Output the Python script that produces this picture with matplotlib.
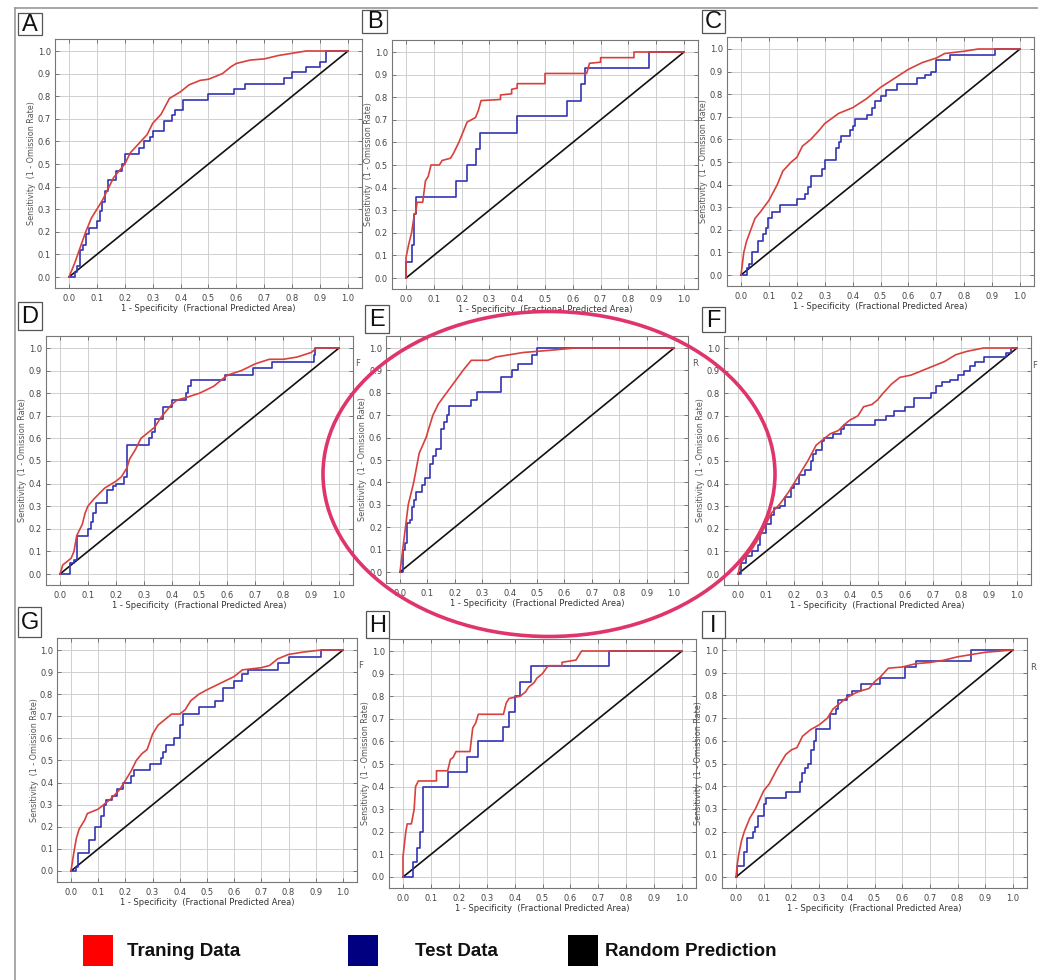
import matplotlib
matplotlib.use('Agg')
import matplotlib.pyplot as plt
import numpy as np
from matplotlib.patches import Ellipse, Rectangle

W, H = 1038, 980

# ---- data: (x, y) vertices ----
train_A = [(0,0),(0.02,0.06),(0.04,0.13),(0.06,0.2),(0.08,0.26),(0.1,0.3),(0.12,0.34),(0.14,0.39),(0.16,0.44),
           (0.18,0.47),(0.2,0.5),(0.22,0.55),(0.25,0.59),(0.28,0.63),(0.3,0.68),(0.33,0.72),(0.36,0.79),(0.4,0.82),
           (0.43,0.85),(0.47,0.87),(0.5,0.875),(0.55,0.9),(0.58,0.93),(0.6,0.945),(0.65,0.96),(0.7,0.965),
           (0.75,0.98),(0.8,0.99),(0.85,1.0),(1,1)]
test_A = [(0,0),(0.02,0.02),(0.03,0.05),(0.04,0.12),(0.05,0.14),(0.06,0.19),(0.07,0.215),(0.1,0.25),(0.11,0.29),
          (0.12,0.33),(0.13,0.38),(0.14,0.43),(0.17,0.47),(0.19,0.5),(0.2,0.545),(0.25,0.57),(0.27,0.6),(0.29,0.62),
          (0.3,0.645),(0.34,0.69),(0.37,0.715),(0.38,0.74),(0.41,0.785),(0.5,0.81),(0.59,0.83),(0.63,0.855),
          (0.77,0.88),(0.8,0.905),(0.85,0.93),(0.9,0.95),(0.92,1.0),(1,1)]

train_B = [(0,0),(0,0.09),(0.01,0.15),(0.02,0.2),(0.03,0.28),(0.035,0.29),(0.04,0.335),(0.06,0.335),(0.07,0.43),
           (0.08,0.45),(0.09,0.5),(0.12,0.5),(0.13,0.52),(0.16,0.53),(0.17,0.55),(0.19,0.6),(0.2,0.63),(0.21,0.66),
           (0.22,0.69),(0.25,0.71),(0.26,0.74),(0.27,0.785),(0.34,0.79),(0.34,0.81),(0.38,0.815),(0.38,0.835),
           (0.4,0.84),(0.4,0.86),(0.5,0.86),(0.5,0.905),(0.65,0.905),(0.66,0.95),(0.7,0.955),(0.7,0.975),
           (0.82,0.975),(0.82,1.0),(1,1)]
test_B = [(0,0),(0,0.07),(0.02,0.145),(0.03,0.285),(0.035,0.36),(0.18,0.43),(0.22,0.5),(0.25,0.57),(0.265,0.64),
          (0.4,0.715),(0.58,0.785),(0.63,0.86),(0.645,0.93),(0.875,1.0),(1,1)]

train_C = [(0,0),(0.01,0.1),(0.02,0.15),(0.035,0.2),(0.05,0.25),(0.07,0.28),(0.1,0.33),(0.13,0.4),(0.15,0.46),
           (0.18,0.5),(0.2,0.52),(0.22,0.57),(0.25,0.6),(0.28,0.64),(0.3,0.67),(0.35,0.715),(0.4,0.74),(0.45,0.78),
           (0.5,0.83),(0.55,0.87),(0.6,0.91),(0.65,0.94),(0.7,0.96),(0.73,0.98),(0.8,0.99),(0.85,1.0),(1,1)]
test_C = [(0,0),(0.02,0.03),(0.03,0.05),(0.04,0.1),(0.06,0.15),(0.08,0.18),(0.09,0.21),(0.095,0.25),(0.11,0.28),
          (0.14,0.31),(0.2,0.335),(0.23,0.36),(0.24,0.39),(0.25,0.44),(0.29,0.47),(0.3,0.51),(0.34,0.56),(0.35,0.59),
          (0.36,0.615),(0.39,0.64),(0.4,0.66),(0.41,0.69),(0.45,0.71),(0.47,0.74),(0.48,0.77),(0.5,0.79),(0.52,0.82),
          (0.56,0.845),(0.63,0.87),(0.66,0.885),(0.68,0.9),(0.7,0.95),(0.75,0.975),(0.91,1.0),(1,1)]

train_D = [(0,0),(0.01,0.04),(0.03,0.06),(0.04,0.07),(0.05,0.1),(0.06,0.17),(0.08,0.22),(0.09,0.27),(0.1,0.3),
           (0.12,0.33),(0.14,0.355),(0.16,0.38),(0.2,0.41),(0.22,0.43),(0.24,0.47),(0.25,0.51),(0.27,0.55),(0.29,0.6),
           (0.31,0.62),(0.34,0.65),(0.36,0.69),(0.38,0.72),(0.4,0.75),(0.42,0.77),(0.45,0.78),(0.5,0.8),(0.55,0.83),
           (0.6,0.88),(0.65,0.9),(0.7,0.93),(0.75,0.95),(0.8,0.95),(0.85,0.96),(0.9,0.98),(0.92,1.0),(1,1)]
test_D = [(0,0),(0.035,0.05),(0.05,0.06),(0.06,0.17),(0.1,0.2),(0.11,0.23),(0.12,0.27),(0.13,0.315),(0.17,0.37),
          (0.19,0.39),(0.2,0.4),(0.23,0.43),(0.24,0.57),(0.32,0.6),(0.33,0.63),(0.34,0.685),(0.37,0.74),(0.4,0.77),
          (0.45,0.8),(0.46,0.83),(0.47,0.86),(0.59,0.88),(0.69,0.91),(0.76,0.94),(0.91,0.97),(0.915,1.0),(1,1)]

train_E = [(0,0),(0.01,0.1),(0.02,0.2),(0.03,0.3),(0.05,0.4),(0.07,0.53),(0.095,0.6),(0.12,0.7),(0.14,0.75),
           (0.17,0.8),(0.2,0.85),(0.23,0.9),(0.26,0.945),(0.32,0.945),(0.35,0.96),(0.4,0.97),(0.45,0.98),
           (0.55,0.99),(0.64,1.0),(1,1)]
test_E = [(0,0),(0.01,0.1),(0.02,0.13),(0.025,0.22),(0.035,0.23),(0.045,0.29),(0.05,0.32),(0.06,0.355),
          (0.08,0.39),(0.09,0.42),(0.11,0.48),(0.12,0.52),(0.13,0.55),(0.15,0.64),(0.16,0.67),(0.17,0.7),
          (0.18,0.74),(0.26,0.77),(0.28,0.805),(0.37,0.87),(0.41,0.9),(0.43,0.93),(0.48,0.97),(0.5,1.0),(1,1)]

train_F = [(0,0),(0.01,0.05),(0.03,0.08),(0.05,0.11),(0.08,0.17),(0.1,0.22),(0.12,0.27),(0.15,0.31),(0.18,0.36),
           (0.2,0.4),(0.22,0.44),(0.25,0.5),(0.28,0.57),(0.3,0.59),(0.33,0.62),(0.36,0.635),(0.38,0.66),(0.4,0.68),
           (0.43,0.7),(0.45,0.74),(0.48,0.75),(0.5,0.77),(0.52,0.8),(0.55,0.84),(0.58,0.87),(0.62,0.88),(0.66,0.9),
           (0.7,0.92),(0.74,0.94),(0.78,0.97),(0.82,0.985),(0.88,1.0),(1,1)]
test_F = [(0,0),(0.01,0.05),(0.03,0.08),(0.05,0.1),(0.07,0.13),(0.08,0.18),(0.1,0.22),(0.12,0.26),(0.13,0.29),
          (0.15,0.3),(0.17,0.34),(0.19,0.38),(0.2,0.4),(0.22,0.44),(0.24,0.46),(0.26,0.5),(0.27,0.53),(0.28,0.55),
          (0.3,0.59),(0.31,0.6),(0.34,0.62),(0.37,0.64),(0.38,0.66),(0.49,0.68),(0.53,0.7),(0.56,0.72),(0.6,0.74),
          (0.63,0.78),(0.69,0.8),(0.71,0.83),(0.73,0.85),(0.76,0.86),(0.79,0.88),(0.81,0.9),(0.83,0.92),
          (0.85,0.94),(0.88,0.96),(0.96,0.98),(0.98,1.0),(1,1)]

train_G = [(0,0),(0.01,0.08),(0.02,0.15),(0.03,0.19),(0.05,0.23),(0.06,0.26),(0.08,0.27),(0.1,0.28),(0.12,0.3),
           (0.15,0.33),(0.18,0.37),(0.2,0.41),(0.22,0.45),(0.24,0.5),(0.26,0.53),(0.28,0.55),(0.3,0.62),(0.32,0.66),
           (0.35,0.69),(0.37,0.71),(0.4,0.71),(0.42,0.73),(0.44,0.77),(0.47,0.8),(0.5,0.82),(0.55,0.85),(0.6,0.88),
           (0.63,0.91),(0.7,0.92),(0.73,0.93),(0.76,0.96),(0.8,0.98),(0.85,0.99),(0.92,1.0),(1,1)]
test_G = [(0,0),(0.02,0.02),(0.025,0.08),(0.06,0.08),(0.065,0.14),(0.09,0.2),(0.11,0.25),(0.12,0.3),(0.13,0.32),
          (0.15,0.34),(0.17,0.37),(0.19,0.4),(0.22,0.43),(0.23,0.455),(0.29,0.485),(0.33,0.51),(0.34,0.54),
          (0.35,0.57),(0.38,0.6),(0.4,0.66),(0.41,0.71),(0.47,0.74),(0.53,0.77),(0.56,0.83),(0.6,0.86),(0.63,0.89),
          (0.65,0.91),(0.76,0.94),(0.8,0.97),(0.92,1.0),(1,1)]

train_H = [(0,0),(0,0.09),(0.01,0.2),(0.015,0.235),(0.03,0.235),(0.04,0.3),(0.045,0.4),(0.055,0.425),(0.12,0.425),
           (0.12,0.47),(0.16,0.47),(0.17,0.52),(0.18,0.53),(0.19,0.555),(0.24,0.555),(0.25,0.66),(0.26,0.68),
           (0.27,0.72),(0.36,0.72),(0.37,0.77),(0.38,0.79),(0.42,0.8),(0.44,0.82),(0.45,0.84),(0.47,0.86),
           (0.48,0.88),(0.5,0.9),(0.52,0.935),(0.57,0.935),(0.57,0.95),(0.62,0.96),(0.64,1.0),(1,1)]
test_H = [(0,0),(0.035,0.065),(0.05,0.13),(0.06,0.2),(0.07,0.4),(0.16,0.465),(0.23,0.53),(0.27,0.6),(0.36,0.665),
          (0.38,0.73),(0.4,0.8),(0.42,0.865),(0.46,0.935),(0.74,1.0),(1,1)]

train_I = [(0,0),(0.005,0.06),(0.01,0.1),(0.02,0.16),(0.03,0.2),(0.05,0.26),(0.07,0.3),(0.1,0.38),(0.12,0.41),
           (0.15,0.48),(0.18,0.54),(0.2,0.56),(0.22,0.57),(0.24,0.62),(0.27,0.65),(0.3,0.67),(0.33,0.7),(0.35,0.74),
           (0.38,0.77),(0.4,0.79),(0.43,0.81),(0.45,0.82),(0.48,0.83),(0.5,0.86),(0.52,0.88),(0.55,0.92),
           (0.6,0.925),(0.65,0.94),(0.7,0.945),(0.75,0.955),(0.8,0.97),(0.85,0.98),(0.9,0.99),(1,1)]
test_I = [(0,0),(0.005,0.05),(0.03,0.11),(0.04,0.17),(0.06,0.2),(0.07,0.22),(0.08,0.27),(0.1,0.32),(0.11,0.35),
          (0.18,0.375),(0.23,0.42),(0.24,0.46),(0.25,0.48),(0.26,0.5),(0.27,0.56),(0.28,0.6),(0.29,0.65),
          (0.34,0.72),(0.36,0.74),(0.37,0.78),(0.4,0.8),(0.42,0.82),(0.45,0.85),(0.52,0.875),(0.61,0.925),
          (0.65,0.95),(0.85,1.0),(1,1)]

panels = ['A', 'B', 'C', 'D', 'E', 'F', 'G', 'H', 'I']
train_sets = [train_A, train_B, train_C, train_D, train_E, train_F, train_G, train_H, train_I]
test_sets = [test_A, test_B, test_C, test_D, test_E, test_F, test_G, test_H, test_I]

legend_labels = ['Traning Data', 'Test Data', 'Random Prediction']
legend_colors = ['#ff0000', '#000080', '#000000']

# pixel anchors of data 0 and 1 for each panel (x0, x1, y0, y1)
anchors = [(69, 348, 277, 51), (406, 684, 278, 52), (741, 1020, 275, 49),
           (60, 339, 574, 348), (400, 674, 572, 348), (738, 1017, 574, 348),
           (71, 343, 871, 650), (403, 682, 877, 651), (736, 1013, 877, 650)]
# letter boxes (left, top, right, bottom) in pixels
boxes = [(18, 13, 42, 35), (362, 10, 387, 33), (702, 10, 725, 33),
         (18, 302, 42, 330), (365, 305, 389, 333), (702, 307, 725, 332),
         (18, 607, 41, 637), (366, 611, 389, 638), (702, 611, 725, 638)]

RED = '#d8403c'
BLUE = '#3434b4'

fig = plt.figure(figsize=(W / 100, H / 100), dpi=100)
fig.patch.set_facecolor('white')

ticks = np.round(np.arange(0, 1.01, 0.1), 1)
tick_labels = ['%.1f' % t for t in ticks]

for name, tr, te, (x0, x1, y0, y1) in zip(panels, train_sets, test_sets, anchors):
    sx = x1 - x0
    sy = y0 - y1
    left = x0 - 0.05 * sx
    right = x1 + 0.05 * sx
    top = y1 - 0.055 * sy
    bottom = y0 + 0.05 * sy
    ax = fig.add_axes([left / W, 1 - bottom / H, (right - left) / W, (bottom - top) / H])
    ax.set_xlim(-0.05, 1.05)
    ax.set_ylim(-0.05, 1.055)
    ax.set_xticks(ticks)
    ax.set_yticks(ticks)
    ax.set_xticklabels(tick_labels)
    ax.set_yticklabels(tick_labels)
    ax.grid(True, color='#cfcfcf', lw=0.7)
    ax.set_axisbelow(True)
    ax.tick_params(direction='in', length=3, width=0.6, top=True, right=True,
                   labelsize=6, labelcolor='#444444', color='#666666')
    ax.tick_params(axis='x', pad=4)
    ax.tick_params(axis='y', pad=3)
    for s in ax.spines.values():
        s.set_color('#777777')
        s.set_linewidth(0.8)
    ax.set_xlabel('1 - Specificity  (Fractional Predicted Area)', fontsize=6, color='#333333', labelpad=1)
    ax.set_ylabel('Sensitivity  (1 - Omission Rate)', fontsize=5.8, color='#555555', labelpad=1)

    ax.plot([0, 1], [0, 1], color='#111111', lw=1.2)
    tx, ty = zip(*te)
    ax.plot(tx, ty, color=BLUE, lw=1.2, drawstyle='steps-post')
    rx, ry = zip(*tr)
    ax.plot(rx, ry, color=RED, lw=1.2)

# overlay in pixel coordinates
ov = fig.add_axes([0, 0, 1, 1])
ov.set_xlim(0, W)
ov.set_ylim(H, 0)
ov.axis('off')
ov.patch.set_alpha(0)

ov.plot([15, W], [8, 8], color='#999999', lw=1.2)
ov.plot([15, 15], [8, H], color='#999999', lw=1.2)

for name, (l, t, r, b) in zip(panels, boxes):
    ov.add_patch(Rectangle((l, t), r - l, b - t, facecolor='white', edgecolor='#555555', lw=0.9))
    ov.text((l + r) / 2, (t + b) / 2 + 1, name, ha='center', va='center', fontsize=17,
            family=['Liberation Sans', 'DejaVu Sans'], color='#111111')

for txt, x, y in [('F', 358, 363), ('R', 695, 363), ('F', 1035, 365), ('F', 361, 665), ('R', 1033, 667)]:
    ov.text(x, y, txt, ha='center', va='center', fontsize=6, color='#555555')

ov.add_patch(Ellipse((549, 474), 452, 325, fill=False, edgecolor='#e0356b', lw=2.6))

sq_x = [83, 348, 568]
txt_x = [127, 415, 605]
for lab, col, sx_, tx_ in zip(legend_labels, legend_colors, sq_x, txt_x):
    ov.add_patch(Rectangle((sx_, 935), 30, 31, facecolor=col, edgecolor='none'))
    ov.text(tx_, 951, lab, ha='left', va='center', fontsize=13.5, fontweight='bold',
            family=['Liberation Sans', 'DejaVu Sans'], color='#111111')

fig.savefig('out.png', dpi=100)
